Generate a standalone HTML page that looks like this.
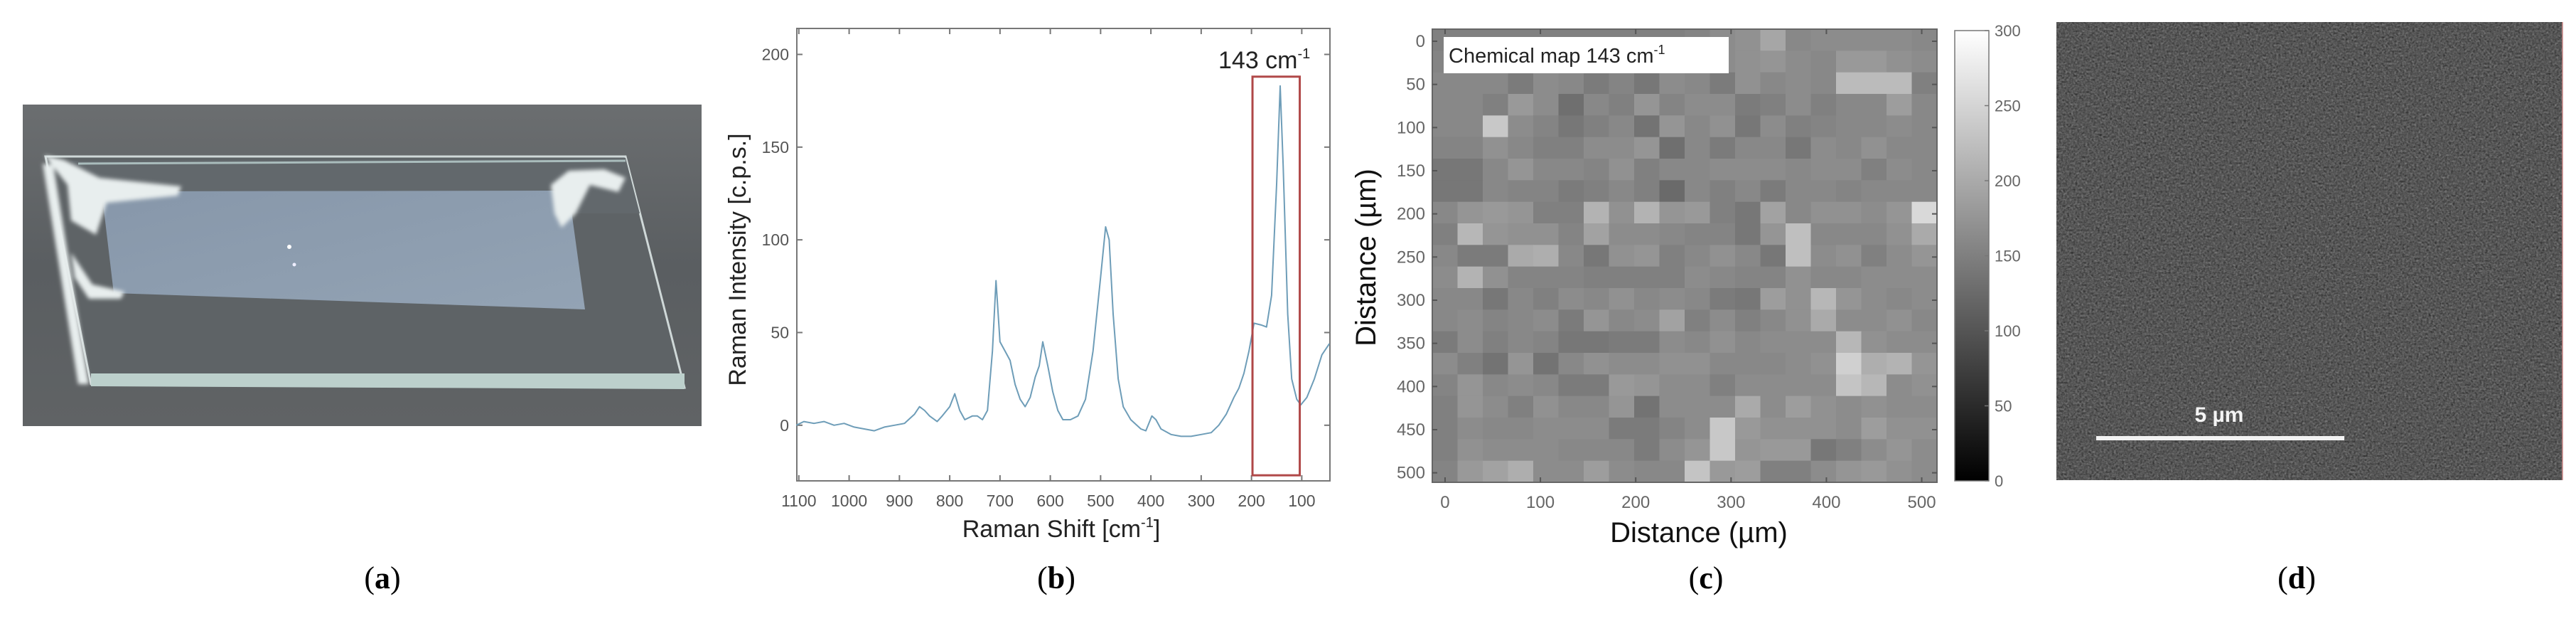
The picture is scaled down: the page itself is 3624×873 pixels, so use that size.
<!DOCTYPE html>
<html><head><meta charset="utf-8"><style>
html,body{margin:0;padding:0;background:#fff;}
svg{display:block;}
text{font-family:"Liberation Sans",sans-serif;}
.serif{font-family:"Liberation Serif",serif;}
</style></head><body>
<svg id="fig" width="3624" height="873" viewBox="0 0 3624 873" xmlns="http://www.w3.org/2000/svg">
<defs>
<linearGradient id="bgA" x1="0" y1="0" x2="0" y2="1"><stop offset="0" stop-color="#6b6e70"/><stop offset="0.5" stop-color="#5a5e61"/><stop offset="1" stop-color="#606365"/></linearGradient>
<linearGradient id="film" x1="0" y1="0" x2="1" y2="1"><stop offset="0" stop-color="#8797aa"/><stop offset="1" stop-color="#93a3b4"/></linearGradient>
<filter id="sem" x="0" y="0" width="100%" height="100%" color-interpolation-filters="sRGB">
<feTurbulence type="fractalNoise" baseFrequency="0.35" numOctaves="2" seed="4" result="n"/>
<feColorMatrix in="n" type="matrix" values="0.33 0.33 0.33 0 0  0.33 0.33 0.33 0 0  0.33 0.33 0.33 0 0  0 0 0 0 1" result="g"/>
<feComponentTransfer in="g"><feFuncR type="linear" slope="0.6" intercept="0.04"/><feFuncG type="linear" slope="0.6" intercept="0.04"/><feFuncB type="linear" slope="0.6" intercept="0.04"/></feComponentTransfer>
</filter>
<filter id="blur2"><feGaussianBlur stdDeviation="3"/></filter>
</defs>

<!-- Panel a: photo -->
<g>
<rect x="32" y="147" width="955" height="452" fill="url(#bgA)"/>
<polygon points="64,220 880,220 963,545 128,540" fill="#5e6366" stroke="#cfd8d8" stroke-width="3"/>
<polygon points="100,226 880,222 900,300 120,300" fill="#62686c"/>
<line x1="110" y1="230" x2="880" y2="226" stroke="#a9bcbc" stroke-width="3"/>
<polygon points="143,269 800,268 823,435 160,412" fill="url(#film)"/>
<polygon points="128,525 963,525 963,547 128,543" fill="#bcd0cc"/>
<g filter="url(#blur2)" fill="#e8eeee">
<path d="M62,218 L90,225 L140,250 L255,262 L250,275 L150,285 L135,330 L100,310 L95,260 Z"/>
<path d="M100,355 L130,400 L175,410 L170,420 L125,420 L105,390 Z"/>
<path d="M775,260 L800,240 L850,238 L880,250 L870,270 L830,260 L810,300 L790,320 L780,300 Z"/>
<path d="M60,230 L75,232 L125,540 L110,540 Z"/>
</g>
<circle cx="407" cy="347" r="3" fill="#fff"/><circle cx="414" cy="372" r="2.5" fill="#eef"/>
</g>
<text class="serif" x="538" y="827" font-size="44" text-anchor="middle">(<tspan font-weight="bold">a</tspan>)</text>

<!-- Panel b -->
<g id="panelB"></g>
<text class="serif" x="1486" y="827" font-size="44" text-anchor="middle">(<tspan font-weight="bold">b</tspan>)</text>

<!-- Panel c -->
<g id="panelC"></g>
<text class="serif" x="2400" y="827" font-size="44" text-anchor="middle">(<tspan font-weight="bold">c</tspan>)</text>

<!-- Panel d -->
<g>
<rect x="2893" y="31" width="712" height="644" fill="#555"/>
<rect x="2893" y="31" width="712" height="644" fill="#555" filter="url(#sem)"/>
<line x1="3605" y1="31" x2="3605" y2="675" stroke="#c88" stroke-width="1.5"/>
<rect x="2949" y="613" width="349" height="6" fill="#f2f2f2"/>
<text x="3122" y="593" font-size="30" font-weight="bold" fill="#f4f4f4" text-anchor="middle">5 µm</text>
</g>
<text class="serif" x="3231" y="827" font-size="44" text-anchor="middle">(<tspan font-weight="bold">d</tspan>)</text>
</svg>

<script>
const NS="http://www.w3.org/2000/svg";
// ---- Panel b data ----
const ramanShift=[1105,1090,1070,1050,1030,1010,990,970,950,930,910,890,870,860,850,840,825,815,800,790,780,770,755,745,735,725,715,708,700,690,680,670,660,650,640,630,622,615,605,595,585,575,560,545,530,515,500,490,483,475,465,455,440,420,410,398,390,380,360,340,320,300,280,265,250,235,225,215,205,195,180,170,160,150,143,137,128,120,110,102,90,75,60,45];
const ramanIntensity=[0,2,1,2,0,1,-1,-2,-3,-1,0,1,6,10,8,5,2,5,10,17,8,3,5,5,3,8,40,78,45,40,35,22,14,10,15,26,32,45,32,18,8,3,3,5,14,40,80,107,100,60,25,10,3,-2,-3,5,3,-2,-5,-6,-6,-5,-4,0,6,15,20,28,40,55,54,53,70,130,183,140,60,25,14,11,15,25,38,44];
const xTicksB=[1100,1000,900,800,700,600,500,400,300,200,100];
const yTicksB=[0,50,100,150,200];
const bandRange=[198,104];
const bandIntensity=[188,-27];

function el(tag,attrs,parent){const e=document.createElementNS(NS,tag);for(const k in attrs)e.setAttribute(k,attrs[k]);parent.appendChild(e);return e;}

(function(){
 const g=document.getElementById('panelB');
 const L=1121,R=1871,T=40,B=676,xmin=1104,xmax=44,ymin=-30,ymax=214;
 const sx=v=>L+(xmin-v)/(xmin-xmax)*(R-L);
 const sy=v=>B-(v-ymin)/(ymax-ymin)*(B-T);
 const box=el('rect',{x:L,y:T,width:R-L,height:B-T,fill:'#fff',stroke:'#777','stroke-width':2},g);
 
 
 xTicksB.forEach(v=>{
  const x=sx(v);
  el('line',{x1:x,y1:B,x2:x,y2:B-8,stroke:'#777','stroke-width':2},g);
  el('line',{x1:x,y1:T,x2:x,y2:T+8,stroke:'#777','stroke-width':2},g);
  const t=el('text',{x:x,y:712,'font-size':23,fill:'#555','text-anchor':'middle'},g);
  t.textContent=v;
  
  
 });
 yTicksB.forEach(v=>{
  const y=sy(v);
  el('line',{x1:L,y1:y,x2:L+8,y2:y,stroke:'#777','stroke-width':2},g);
  el('line',{x1:R,y1:y,x2:R-8,y2:y,stroke:'#777','stroke-width':2},g);
  const t=el('text',{x:1110,y:y+8,'font-size':23,fill:'#555','text-anchor':'end'},g);
  t.textContent=v;
  
  
 });
 let d='';
 ramanShift.forEach((v,i)=>{d+=(i?'L':'M')+sx(v).toFixed(1)+','+sy(ramanIntensity[i]).toFixed(1);});
 const p=el('path',{d:d,fill:'none',stroke:'#6e9db8','stroke-width':2,'stroke-linejoin':'round'},g);
 
 
 const rb=el('rect',{x:sx(bandRange[0]),y:sy(bandIntensity[0]),width:sx(bandRange[1])-sx(bandRange[0]),height:sy(bandIntensity[1])-sy(bandIntensity[0]),fill:'none',stroke:'#b04848','stroke-width':3},g);
 
 
 const lb=el('text',{x:1714,y:96,'font-size':34,fill:'#222'},g);
 lb.innerHTML='143 cm<tspan font-size="20" dy="-14">-1</tspan>';
 
 
 const xt=el('text',{x:1493,y:755,'font-size':34,fill:'#222','text-anchor':'middle'},g);
 xt.innerHTML='Raman Shift [cm<tspan font-size="20" dy="-14">-1</tspan><tspan dy="14">]</tspan>';
 
 
 const yt=el('text',{x:0,y:0,'font-size':34,fill:'#222','text-anchor':'middle',transform:'translate(1049,365) rotate(-90)'},g);
 yt.textContent='Raman Intensity [c.p.s.]';
 
 
})();

// ---- Panel c data ----
const mapValues=[
[150,150,150,150,150,150,150,150,150,150,155,165,170,195,160,165,165,165,165,160],
[155,155,155,150,155,160,160,150,155,165,165,165,170,175,165,160,180,180,170,165],
[160,160,160,145,165,160,145,155,140,165,160,145,170,160,165,160,220,220,220,150],
[160,160,150,180,165,130,160,150,175,155,165,165,145,150,165,150,160,160,185,160],
[160,160,235,165,155,140,150,160,135,175,160,170,140,165,150,155,160,160,165,160],
[155,155,170,160,150,150,165,165,175,130,160,145,160,160,140,165,160,170,160,160],
[140,140,160,175,160,160,155,170,150,160,160,165,165,165,160,165,165,150,165,160],
[140,140,160,155,155,145,150,160,150,125,160,150,160,145,160,160,155,160,160,160],
[160,175,180,175,150,150,210,170,210,175,180,150,140,190,160,170,170,165,175,255],
[150,215,175,170,170,155,190,165,165,160,155,155,140,175,225,160,160,160,170,200],
[160,145,145,200,205,160,140,170,175,150,160,170,160,140,225,165,170,150,165,175],
[165,210,170,155,155,155,150,150,150,150,165,160,155,155,170,160,160,165,165,165],
[160,160,140,160,150,165,160,170,160,165,160,145,140,185,170,215,175,165,160,165],
[160,165,155,160,165,145,175,160,165,190,150,165,150,160,170,200,165,165,170,160],
[145,165,150,160,155,140,140,145,145,165,160,170,160,165,165,165,215,170,165,165],
[165,150,135,175,135,160,170,165,165,170,170,160,160,160,165,170,245,205,210,175],
[155,175,160,165,160,145,145,180,175,165,165,150,165,165,165,165,230,215,165,170],
[150,175,165,150,170,160,160,175,135,165,165,165,200,165,185,170,165,170,165,165],
[150,165,160,160,165,165,165,145,145,155,165,235,180,170,170,170,165,185,170,170],
[150,170,165,165,165,160,160,160,145,165,175,235,175,180,180,140,150,165,175,165],
[155,180,190,205,165,165,185,165,160,160,230,180,185,150,150,165,175,180,170,165]];
const xTicksC=[0,100,200,300,400,500];
const yTicksC=[0,50,100,150,200,250,300,350,400,450,500];
const cbTicks=[0,50,100,150,200,250,300];
const cLimits=[0,300];

(function(){
 const g=document.getElementById('panelC');
 const L=2015,R=2725,T=41,B=678,xmin=-13.4,xmax=516,ymin=-14,ymax=511;
 const sx=v=>L+(v-xmin)/(xmax-xmin)*(R-L);
 const sy=v=>T+(v-ymin)/(ymax-ymin)*(B-T);
 const rows=mapValues.length,cols=mapValues[0].length;
 const cw=(xmax-xmin)/cols,ch=(ymax-ymin)/rows;
 const gray=v=>{const c=Math.round(Math.max(0,Math.min(1,(v-cLimits[0])/(cLimits[1]-cLimits[0])))*255);return 'rgb('+c+','+c+','+c+')';};
 mapValues.forEach((row,r)=>row.forEach((v,c)=>{
  const x0=sx(xmin+c*cw),x1=sx(xmin+(c+1)*cw),y0=sy(ymin+r*ch),y1=sy(ymin+(r+1)*ch);
  const cell=el('rect',{x:x0.toFixed(2),y:y0.toFixed(2),width:(x1-x0+0.6).toFixed(2),height:(y1-y0+0.6).toFixed(2),fill:gray(v)},g);
  
  
 }));
 el('rect',{x:L,y:T,width:R-L,height:B-T,fill:'none',stroke:'#666','stroke-width':2},g);
 xTicksC.forEach(v=>{
  const x=sx(v);
  el('line',{x1:x,y1:B,x2:x,y2:B-7,stroke:'#555','stroke-width':2},g);
  el('line',{x1:x,y1:T,x2:x,y2:T+7,stroke:'#555','stroke-width':2},g);
  const t=el('text',{x:x,y:714,'font-size':24,fill:'#666','text-anchor':'middle'},g);
  t.textContent=v;
  
  
 });
 yTicksC.forEach(v=>{
  const y=sy(v);
  el('line',{x1:L,y1:y,x2:L+7,y2:y,stroke:'#555','stroke-width':2},g);
  el('line',{x1:R,y1:y,x2:R-7,y2:y,stroke:'#555','stroke-width':2},g);
  const t=el('text',{x:2005,y:y+8,'font-size':24,fill:'#666','text-anchor':'end'},g);
  t.textContent=v;
  
  
 });
 const lbox=el('rect',{x:2031,y:52,width:401,height:51,fill:'#fff'},g);
 
 
 const lt=el('text',{x:2038,y:88,'font-size':29,fill:'#222'},g);
 lt.innerHTML='Chemical map 143 cm<tspan font-size="18" dy="-12">-1</tspan>';
 
 
 // colorbar
 const CL=2750,CR=2798,CT=43,CB=676;
 const gr=el('linearGradient',{id:'cbg',x1:0,y1:1,x2:0,y2:0},document.querySelector('defs'));
 el('stop',{offset:0,'stop-color':'#000'},gr);el('stop',{offset:1,'stop-color':'#fff'},gr);
 const cb=el('rect',{x:CL,y:CT,width:CR-CL,height:CB-CT,fill:'url(#cbg)',stroke:'#777','stroke-width':1.5},g);
 
 
 const cy=v=>CB-(v-cLimits[0])/(cLimits[1]-cLimits[0])*(CB-CT);
 cbTicks.forEach(v=>{
  const y=cy(v);
  el('line',{x1:CR,y1:y,x2:CR-6,y2:y,stroke:'#777','stroke-width':1.5},g);
  const t=el('text',{x:2806,y:y+8,'font-size':22,fill:'#666'},g);
  t.textContent=v;
  
  
 });
 const xt=el('text',{x:2390,y:762,'font-size':40,fill:'#111','text-anchor':'middle'},g);
 xt.textContent='Distance (µm)';
 
 
 const yt=el('text',{x:0,y:0,'font-size':40,fill:'#111','text-anchor':'middle',transform:'translate(1935,362) rotate(-90)'},g);
 yt.textContent='Distance (µm)';
 
 
})();
</script>
</body></html>
